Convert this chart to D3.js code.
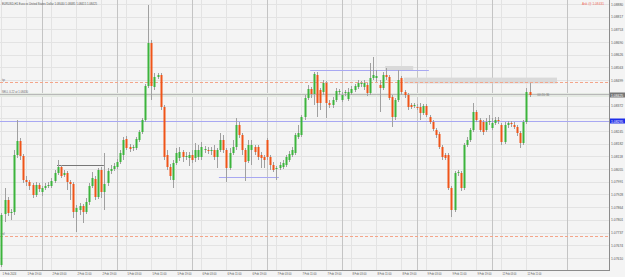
<!DOCTYPE html>
<html>
<head>
<meta charset="utf-8">
<script src="https://cdn.jsdelivr.net/npm/d3@7"></script>
<style>
  body { margin: 0; background: #f4f4f4; }
  svg { display: block; font-family: "Liberation Sans", Arial, sans-serif; }
</style>
</head>
<body>
<div id="chart"></div>
<script>
// EURUSD H1 candles, one entry per bar (price values)
var opens = [1.07575,1.07830,1.07900,1.07835,1.07840,1.08125,1.08195,1.08120,1.08000,1.07990,
  1.07975,1.07925,1.07975,1.07940,1.07960,1.07970,1.07970,1.07995,1.08035,1.08065,
  1.08025,1.08035,1.07990,1.07980,1.07840,1.07850,1.07870,1.07840,1.07890,1.07970,
  1.08005,1.07915,1.08050,1.07940,1.07985,1.08045,1.08055,1.08065,1.08090,1.08125,
  1.08205,1.08165,1.08160,1.08160,1.08200,1.08240,1.08300,1.08470,1.08685,1.08465,
  1.08515,1.08525,1.08365,1.08125,1.08065,1.08000,1.08085,1.08110,1.08140,1.08115,
  1.08110,1.08125,1.08110,1.08115,1.08115,1.08150,1.08150,1.08145,1.08150,1.08115,
  1.08150,1.08200,1.08150,1.08060,1.08135,1.08165,1.08275,1.08225,1.08150,1.08095,
  1.08150,1.08165,1.08165,1.08125,1.08115,1.08200,1.08115,1.08075,1.08055,1.08060,
  1.08065,1.08075,1.08100,1.08125,1.08135,1.08215,1.08225,1.08315,1.08410,1.08455,
  1.08430,1.08525,1.08450,1.08440,1.08485,1.08385,1.08375,1.08400,1.08440,1.08400,
  1.08435,1.08405,1.08435,1.08450,1.08465,1.08480,1.08465,1.08475,1.08435,1.08510,
  1.08510,1.08475,1.08460,1.08525,1.08515,1.08415,1.08315,1.08400,1.08510,1.08440,
  1.08425,1.08375,1.08375,1.08365,1.08365,1.08335,1.08370,1.08315,1.08290,1.08250,
  1.08230,1.08165,1.08125,1.08125,1.07960,1.07850,1.08035,1.08035,1.07960,1.08175,
  1.08200,1.08250,1.08340,1.08300,1.08290,1.08250,1.08290,1.08260,1.08285,1.08300,
  1.08275,1.08190,1.08275,1.08285,1.08275,1.08265,1.08235,1.08185,1.08290,1.08440];
var highs = [1.07835,1.07960,1.07915,1.07855,1.08150,1.08300,1.08210,1.08130,1.08020,1.08000,
  1.07985,1.07990,1.07985,1.07970,1.07985,1.07990,1.08010,1.08050,1.08100,1.08075,
  1.08050,1.08045,1.08000,1.07990,1.07875,1.07885,1.07880,1.07910,1.07985,1.08040,
  1.08020,1.08060,1.08065,1.08135,1.08060,1.08075,1.08085,1.08105,1.08150,1.08215,
  1.08220,1.08180,1.08175,1.08215,1.08250,1.08310,1.08480,1.08875,1.08700,1.08535,
  1.08535,1.08535,1.08375,1.08150,1.08080,1.08100,1.08160,1.08165,1.08150,1.08140,
  1.08140,1.08150,1.08185,1.08175,1.08190,1.08170,1.08165,1.08165,1.08175,1.08160,
  1.08235,1.08225,1.08160,1.08160,1.08200,1.08310,1.08290,1.08235,1.08160,1.08200,
  1.08200,1.08175,1.08175,1.08140,1.08125,1.08210,1.08125,1.08090,1.08070,1.08090,
  1.08100,1.08125,1.08145,1.08165,1.08235,1.08275,1.08325,1.08425,1.08475,1.08465,
  1.08540,1.08540,1.08460,1.08500,1.08495,1.08400,1.08415,1.08460,1.08455,1.08440,
  1.08450,1.08460,1.08470,1.08480,1.08500,1.08495,1.08500,1.08485,1.08585,1.08615,
  1.08550,1.08500,1.08540,1.08560,1.08525,1.08425,1.08410,1.08550,1.08520,1.08450,
  1.08435,1.08385,1.08385,1.08380,1.08385,1.08380,1.08380,1.08325,1.08300,1.08260,
  1.08240,1.08175,1.08135,1.08135,1.07970,1.08045,1.08050,1.08045,1.08185,1.08215,
  1.08260,1.08385,1.08350,1.08310,1.08300,1.08310,1.08325,1.08310,1.08315,1.08315,
  1.08285,1.08290,1.08295,1.08295,1.08290,1.08275,1.08245,1.08300,1.08460,1.08485];
var lows = [1.07565,1.07790,1.07820,1.07800,1.07825,1.08110,1.08100,1.07985,1.07970,1.07950,
  1.07910,1.07915,1.07940,1.07920,1.07950,1.07960,1.07960,1.07985,1.08025,1.08010,
  1.08015,1.07950,1.07900,1.07810,1.07740,1.07825,1.07785,1.07830,1.07875,1.07960,
  1.07900,1.07905,1.07910,1.07850,1.07970,1.08030,1.08045,1.08055,1.08080,1.08100,
  1.08150,1.08140,1.08145,1.08150,1.08190,1.08230,1.08290,1.08460,1.08400,1.08450,
  1.08505,1.08350,1.08100,1.08050,1.08000,1.07960,1.08075,1.08095,1.08090,1.08100,
  1.08070,1.08085,1.08090,1.08100,1.08100,1.08135,1.08130,1.08125,1.08100,1.08060,
  1.08140,1.08135,1.07990,1.08050,1.08125,1.08150,1.08210,1.08125,1.07995,1.08085,
  1.08075,1.08125,1.08100,1.08060,1.08060,1.08100,1.08050,1.08040,1.08000,1.08050,
  1.08055,1.08065,1.08090,1.08115,1.08125,1.08205,1.08215,1.08300,1.08400,1.08410,
  1.08375,1.08315,1.08350,1.08425,1.08310,1.08360,1.08360,1.08390,1.08425,1.08390,
  1.08420,1.08395,1.08425,1.08440,1.08455,1.08465,1.08450,1.08420,1.08425,1.08500,
  1.08490,1.08340,1.08450,1.08500,1.08400,1.08265,1.08300,1.08390,1.08425,1.08410,
  1.08350,1.08355,1.08360,1.08350,1.08300,1.08325,1.08315,1.08280,1.08245,1.08210,
  1.08155,1.08100,1.08100,1.07950,1.07815,1.07840,1.08020,1.07945,1.07950,1.08165,
  1.08190,1.08240,1.08290,1.08240,1.08225,1.08240,1.08275,1.08250,1.08275,1.08280,
  1.08175,1.08180,1.08260,1.08265,1.08255,1.08220,1.08160,1.08175,1.08280,1.08415];
var closes = [1.07825,1.07900,1.07835,1.07840,1.08125,1.08195,1.08120,1.08000,1.07990,1.07970,
  1.07925,1.07975,1.07955,1.07960,1.07970,1.07975,1.07995,1.08035,1.08065,1.08020,
  1.08035,1.07990,1.07980,1.07840,1.07860,1.07870,1.07840,1.07890,1.07970,1.08010,
  1.07915,1.08050,1.07940,1.07980,1.08045,1.08055,1.08070,1.08090,1.08135,1.08200,
  1.08160,1.08155,1.08165,1.08205,1.08240,1.08300,1.08470,1.08685,1.08470,1.08515,
  1.08525,1.08365,1.08115,1.08065,1.08020,1.08085,1.08135,1.08140,1.08115,1.08120,
  1.08125,1.08100,1.08150,1.08150,1.08165,1.08155,1.08145,1.08150,1.08115,1.08150,
  1.08200,1.08150,1.08060,1.08135,1.08165,1.08275,1.08225,1.08150,1.08090,1.08175,
  1.08175,1.08140,1.08115,1.08110,1.08100,1.08115,1.08075,1.08050,1.08060,1.08075,
  1.08085,1.08115,1.08130,1.08150,1.08225,1.08235,1.08315,1.08410,1.08455,1.08430,
  1.08530,1.08385,1.08385,1.08485,1.08385,1.08375,1.08400,1.08445,1.08445,1.08425,
  1.08440,1.08440,1.08455,1.08470,1.08485,1.08485,1.08485,1.08435,1.08510,1.08525,
  1.08520,1.08460,1.08525,1.08515,1.08410,1.08315,1.08400,1.08500,1.08440,1.08425,
  1.08365,1.08365,1.08375,1.08360,1.08335,1.08370,1.08325,1.08290,1.08255,1.08225,
  1.08165,1.08115,1.08110,1.07960,1.07850,1.08035,1.08040,1.07960,1.08175,1.08200,
  1.08250,1.08340,1.08300,1.08250,1.08240,1.08290,1.08295,1.08285,1.08300,1.08295,
  1.08190,1.08275,1.08285,1.08280,1.08265,1.08235,1.08185,1.08290,1.08440,1.08425];

// time axis: one label every 8 bars
var timeLabels = ["1 Feb 2024","1 Feb 19:00","2 Feb 03:00","2 Feb 11:00","2 Feb 19:00","5 Feb 03:00",
  "5 Feb 11:00","5 Feb 19:00","6 Feb 03:00","6 Feb 11:00","6 Feb 19:00","7 Feb 03:00","7 Feb 11:00",
  "7 Feb 19:00","8 Feb 03:00","8 Feb 11:00","8 Feb 19:00","9 Feb 03:00","9 Feb 11:00","9 Feb 19:00",
  "12 Feb 03:00","12 Feb 11:00"];
var dayStarts = [13, 37, 61, 85, 109, 133, 157, 181];

var priceTicks = [1.08880,1.08817,1.08753,1.08690,1.08626,1.08563,1.08499,1.08436,1.08372,1.08309,
  1.08245,1.08182,1.08118,1.08055,1.07991,1.07928,1.07864,1.07801,1.07737,1.07674,1.07610];

// drawn objects: [price, fromBar, toBar]
var blueLines = [[1.08548, 98.8, 136.8], [1.08015, 69.6, 88.8], [1.08295, -1, 195]];
var blackLines = [[1.08075, 17.8, 32.8]];
var boxes = [[1.08570, 1.08550, 122.8, 131.8], [1.08512, 1.08483, 128.8, 177.8]];
var tpPrice = 1.08492, slPrice = 1.07720, sellPrice = 1.08430;

var W = 625, H = 277, plotW = 609, plotH = 270;

var svg = d3.select("#chart").append("svg")
  .attr("width", W).attr("height", H);

var x = d3.scaleLinear().domain([-0.44, 194.44]).range([0, plotW]);
var y = d3.scaleLinear().domain([1.07550, 1.08900]).range([plotH, 0]);

svg.append("rect").attr("width", W).attr("height", H).attr("fill", "#f4f4f4");

var plot = svg.append("g");
plot.append("defs").append("clipPath").attr("id", "clip")
  .append("rect").attr("width", plotW).attr("height", plotH);

// grid
plot.selectAll(".hgrid").data(priceTicks).enter().append("line")
  .attr("x1", 0).attr("x2", plotW)
  .attr("y1", function(d) { return Math.round(y(d)) + 0.5; })
  .attr("y2", function(d) { return Math.round(y(d)) + 0.5; })
  .attr("stroke", "#e3e3e3");

plot.selectAll(".vgrid").data(timeLabels).enter().append("line")
  .attr("x1", function(d, i) { return Math.round(x(i * 8)) + 0.5; })
  .attr("x2", function(d, i) { return Math.round(x(i * 8)) + 0.5; })
  .attr("y1", 0).attr("y2", plotH)
  .attr("stroke", "#e3e3e3");

plot.selectAll(".sep").data(dayStarts).enter().append("line")
  .attr("x1", function(d) { return Math.round(x(d)) + 0.5; })
  .attr("x2", function(d) { return Math.round(x(d)) + 0.5; })
  .attr("y1", 0).attr("y2", plotH)
  .attr("stroke", "#c4c4c4");

var objs = plot.append("g").attr("clip-path", "url(#clip)");

// boxes
objs.selectAll(".box").data(boxes).enter().append("rect")
  .attr("x", function(d) { return x(d[2]); })
  .attr("width", function(d) { return x(d[3]) - x(d[2]); })
  .attr("y", function(d) { return y(d[0]); })
  .attr("height", function(d) { return y(d[1]) - y(d[0]); })
  .attr("fill", "#d9d9d9");

// sell line band
objs.append("rect")
  .attr("x", 0).attr("width", plotW)
  .attr("y", y(sellPrice) - 1).attr("height", 4)
  .attr("fill", "#e4e9e2");
objs.append("line")
  .attr("x1", 0).attr("x2", plotW)
  .attr("y1", Math.round(y(sellPrice)) + 0.5).attr("y2", Math.round(y(sellPrice)) + 0.5)
  .attr("stroke", "#b8b8b8");

// tp / sl
objs.selectAll(".stop").data([tpPrice, slPrice]).enter().append("line")
  .attr("x1", 0).attr("x2", plotW)
  .attr("y1", function(d) { return Math.round(y(d)) + 0.5; })
  .attr("y2", function(d) { return Math.round(y(d)) + 0.5; })
  .attr("stroke", "#f4a58a").attr("stroke-dasharray", "3,2");

objs.selectAll(".blue").data(blueLines).enter().append("line")
  .attr("x1", function(d) { return x(d[1]); })
  .attr("x2", function(d) { return x(d[2]); })
  .attr("y1", function(d) { return Math.round(y(d[0])) + 0.5; })
  .attr("y2", function(d) { return Math.round(y(d[0])) + 0.5; })
  .attr("stroke", "#a8a8f2");

objs.selectAll(".black").data(blackLines).enter().append("line")
  .attr("x1", function(d) { return x(d[1]); })
  .attr("x2", function(d) { return x(d[2]); })
  .attr("y1", function(d) { return Math.round(y(d[0])) + 0.5; })
  .attr("y2", function(d) { return Math.round(y(d[0])) + 0.5; })
  .attr("stroke", "#777");

// candles
var bars = objs.selectAll(".bar").data(closes).enter().append("g");
bars.append("line")
  .attr("x1", function(d, i) { return Math.round(x(i)) + 0.5; })
  .attr("x2", function(d, i) { return Math.round(x(i)) + 0.5; })
  .attr("y1", function(d, i) { return y(highs[i]); })
  .attr("y2", function(d, i) { return y(lows[i]); })
  .attr("stroke", "#a0a0a0");
bars.append("rect")
  .attr("x", function(d, i) { return Math.round(x(i)) - 0.5; })
  .attr("width", 2)
  .attr("y", function(d, i) { return y(Math.max(opens[i], d)); })
  .attr("height", function(d, i) { return Math.max(1, Math.abs(y(opens[i]) - y(d))); })
  .attr("fill", function(d, i) { return d >= opens[i] ? "#3cb43c" : "#ef5418"; });

// small texts, squeezed to the widths seen in the picture
function tiny(g, px, py, str, w, color, size) {
  var t = g.append("text").attr("x", px).attr("y", py)
    .attr("font-size", (size || 3.6) + "px").attr("fill", color).text(str);
  if (w) t.attr("textLength", w).attr("lengthAdjust", "spacingAndGlyphs");
  return t;
}

tiny(svg, 2, 5, "EURUSD,H1  Euro vs United States Dollar  1.08440 1.08485 1.08415 1.08425", 95, "#555");
tiny(svg, 2, y(tpPrice) - 1, "tp", 0, "#777");
tiny(svg, 2, y(slPrice) - 1, "sl", 0, "#777");
tiny(svg, 2, y(sellPrice) - 1, "SELL 0.22 at 1.08430", 26, "#666");
tiny(svg, x(closes.length + 1.5), y(closes[closes.length - 1]) + 1, "00:20:36", 12, "#777");
tiny(svg, 582, 5, "Ask @ 1.08431", 22, "#f06a5a");

// axes frame
svg.append("line").attr("x1", plotW + 0.5).attr("x2", plotW + 0.5).attr("y1", 0).attr("y2", plotH + 1)
  .attr("stroke", "#8c8c8c");
svg.append("line").attr("x1", 0).attr("x2", plotW + 1).attr("y1", plotH + 0.5).attr("y2", plotH + 0.5)
  .attr("stroke", "#8c8c8c");

// price axis, ticks hidden under the two price markers
var bid = closes[closes.length - 1];
var markers = [bid, blueLines[2][0]];
var yAxis = svg.append("g");
priceTicks.forEach(function(p) {
  var hidden = markers.some(function(m) { return Math.abs(y(m) - y(p)) < 5; });
  if (!hidden) tiny(yAxis, plotW + 2, y(p) + 1.5, p.toFixed(5), 0, "#555", 3.4);
});

yAxis.append("rect").attr("x", plotW + 1).attr("y", y(bid) - 2.5).attr("width", 15).attr("height", 5)
  .attr("fill", "#777");
tiny(yAxis, plotW + 2, y(bid) + 1.5, bid.toFixed(5), 0, "#fff", 3.4);
yAxis.append("rect").attr("x", plotW + 1).attr("y", y(blueLines[2][0]) - 2.5).attr("width", 15).attr("height", 5)
  .attr("fill", "#1f2ee8");
tiny(yAxis, plotW + 2, y(blueLines[2][0]) + 1.5, blueLines[2][0].toFixed(5), 0, "#fff", 3.4);

// time axis
var xAxis = svg.append("g");
timeLabels.forEach(function(d, i) {
  tiny(xAxis, x(i * 8) + 1, plotH + 5, d, 14, "#555");
});
</script>
</body>
</html>
